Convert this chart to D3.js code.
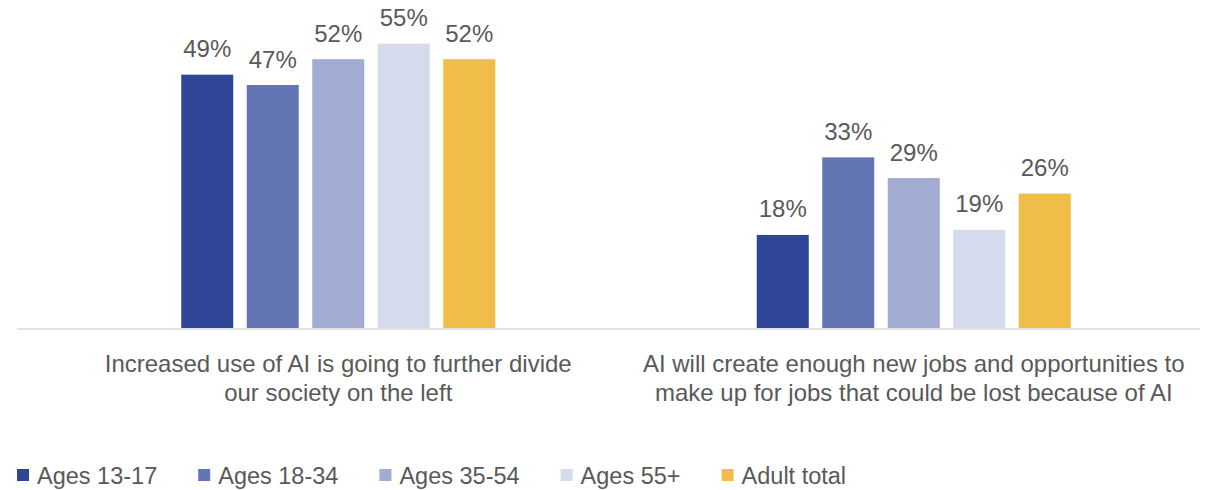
<!DOCTYPE html>
<html>
<head>
<meta charset="utf-8">
<script src="https://cdn.jsdelivr.net/npm/d3@7"></script>
<style>
  html, body { margin: 0; padding: 0; background: #fff; }
  svg { display: block; font-family: "Liberation Sans", Arial, sans-serif; }
</style>
</head>
<body>
<svg id="chart" width="1210" height="490"></svg>
<script>
// Survey statements (each split into its two display lines)
const categories = [
  "Increased use of AI is going to further divide our society on the left",
  "AI will create enough new jobs and opportunities to make up for jobs that could be lost because of AI"
];
const categoryLines = [
  ["Increased use of AI is going to further divide", "our society on the left"],
  ["AI will create enough new jobs and opportunities to", "make up for jobs that could be lost because of AI"]
];
const seriesNames = ["Ages 13-17", "Ages 18-34", "Ages 35-54", "Ages 55+", "Adult total"];
const seriesColors = ["#2E4598", "#6475B4", "#A2ACD3", "#D5DAEC", "#F0BD48"];

// Percent agreeing, per series, in category order
const ages13to17 = [49, 18];
const ages18to34 = [47, 33];
const ages35to54 = [52, 29];
const ages55plus = [55, 19];
const adultTotal = [52, 26];
const seriesValues = [ages13to17, ages18to34, ages35to54, ages55plus, adultTotal];

const svg = d3.select("#chart");
const textColor = "#595959";
const baseline = 328;

const x0 = d3.scaleBand().domain(categories).range([50.5, 1201.5]).padding(0);
const y = d3.scaleLinear().domain([0, 60]).range([baseline, baseline - 60 * 5.17]);

const groupSpan = 314;
const x1 = d3.scaleBand().domain(seriesNames).range([0, groupSpan]).paddingInner(0.206).paddingOuter(0);

// Baseline axis
svg.append("line")
  .attr("x1", 17).attr("x2", 1200)
  .attr("y1", baseline + 1).attr("y2", baseline + 1)
  .attr("stroke", "#D9D9D9").attr("stroke-width", 1.5);

const groups = svg.selectAll("g.group")
  .data(categories)
  .join("g")
  .attr("class", "group")
  .attr("transform", d => `translate(${x0(d) + x0.bandwidth() / 2 - groupSpan / 2},0)`);

groups.each(function (cat, ci) {
  const g = d3.select(this);
  const rows = seriesNames.map((s, si) => ({ s, si, v: seriesValues[si][ci] }));
  g.selectAll("rect")
    .data(rows)
    .join("rect")
    .attr("x", d => x1(d.s))
    .attr("width", x1.bandwidth())
    .attr("y", d => y(d.v))
    .attr("height", d => baseline - y(d.v))
    .attr("fill", d => seriesColors[d.si]);
  g.selectAll("text.val")
    .data(rows)
    .join("text")
    .attr("class", "val")
    .attr("x", d => x1(d.s) + x1.bandwidth() / 2)
    .attr("y", d => y(d.v) - 17.5)
    .attr("text-anchor", "middle")
    .attr("font-size", "24px")
    .attr("fill", textColor)
    .text(d => d.v + "%");
});

// Category labels under the axis
categories.forEach((cat, ci) => {
  const t = svg.append("text")
    .attr("text-anchor", "middle")
    .attr("font-size", "24px")
    .attr("fill", textColor);
  categoryLines[ci].forEach((line, li) => {
    t.append("tspan")
      .attr("x", x0(cat) + x0.bandwidth() / 2)
      .attr("y", 371.5 + li * 29)
      .text(line);
  });
});

// Legend
let lx = 17;
seriesNames.forEach((name, i) => {
  svg.append("rect")
    .attr("x", lx).attr("y", 469)
    .attr("width", 12).attr("height", 12)
    .attr("fill", seriesColors[i]);
  const t = svg.append("text")
    .attr("x", lx + 20)
    .attr("y", 484)
    .attr("font-size", "23.5px")
    .attr("fill", textColor)
    .text(name);
  lx += 20 + t.node().getComputedTextLength() + 41;
});
</script>
</body>
</html>
